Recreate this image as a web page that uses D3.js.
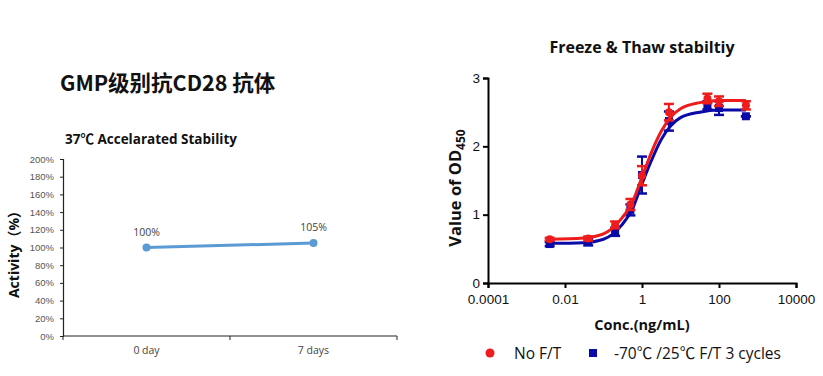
<!DOCTYPE html>
<html>
<head>
<meta charset="utf-8">
<script src="https://cdn.jsdelivr.net/npm/d3@7"></script>
<style>
body { margin:0; background:#fff; }
svg { font-family: "Open Sans", "Noto Sans CJK SC", sans-serif; }
</style>
</head>
<body>
<svg id="drawing_region"></svg>
<script>
// left chart data
const days = ["0 day", "7 days"];
const activity = [1.00, 1.05];
const activityLabels = ["100%", "105%"];
const activityTicks = [0, 0.2, 0.4, 0.6, 0.8, 1.0, 1.2, 1.4, 1.6, 1.8, 2.0];

// right chart data
const conc = [0.004, 0.04, 0.2, 0.5, 1, 5, 50, 100, 500];
const odNoFT = [0.64, 0.65, 0.85, 1.15, 1.57, 2.50, 2.70, 2.66, 2.60];
const errNoFT = [0.02, 0.03, 0.05, 0.08, 0.14, 0.12, 0.07, 0.07, 0.06];
const odFT = [0.57, 0.60, 0.75, 1.07, 1.58, 2.37, 2.60, 2.56, 2.44];
const errFT = [0.03, 0.05, 0.06, 0.08, 0.27, 0.14, 0.06, 0.10, 0.0];
// fitted curves
const curveConc = [0.004, 0.03, 0.1, 0.3, 0.56, 1, 1.78, 3.16, 5.6, 10, 31.6, 100, 500];
const curveNoFT = [0.64, 0.66, 0.72, 0.95, 1.18, 1.55, 1.92, 2.22, 2.43, 2.55, 2.64, 2.67, 2.67];
const curveFT = [0.58, 0.59, 0.64, 0.85, 1.08, 1.45, 1.80, 2.10, 2.30, 2.42, 2.50, 2.53, 2.53];
const odTicks = [0, 1, 2, 3];
const concTicks = [0.0001, 0.01, 1, 100, 10000];
const concTickLabels = ["0.0001", "0.01", "1", "100", "10000"];
const legendNames = ["No F/T", "-70\u2103 /25\u2103  F/T 3 cycles"];

const svg = d3.select("#drawing_region").attr("width", 823).attr("height", 376);

// ---------- left chart ----------
svg.append("text").attr("x", 60).attr("y", 91)
  .attr("font-size", 21.5).attr("font-weight", "bold").attr("fill", "#111")
  .attr("font-family", "'Noto Sans CJK SC', 'Open Sans', sans-serif")
  .text("GMP级别抗CD28 抗体");

svg.append("text").attr("x", 65).attr("y", 144)
  .attr("font-size", 13.5).attr("font-weight", "bold").attr("fill", "#111")
  .text("37\u2103 Accelarated Stability");

const lx = d3.scaleBand().domain(days).range([63, 397]);
const ly = d3.scaleLinear().domain([0, 2]).range([336, 159]);

const lyAxis = svg.append("g").attr("transform", "translate(63,0)")
  .call(d3.axisLeft(ly).tickValues(activityTicks).tickSize(3).tickFormat(d3.format(".0%")));
lyAxis.selectAll("text").attr("font-size", 9.5).attr("fill", "#555").attr("x", -9);
lyAxis.select(".domain").attr("stroke", "#222").attr("stroke-width", 1.2);
lyAxis.selectAll(".tick line").attr("stroke", "#222");

const lxAxis = svg.append("g").attr("transform", "translate(0,336)");
lxAxis.append("line").attr("x1", 63).attr("x2", 397).attr("y1", 0).attr("y2", 0)
  .attr("stroke", "#222").attr("stroke-width", 1.2);
lxAxis.selectAll(".sep").data([0, 1, 2]).enter().append("line")
  .attr("x1", d => 63 + d * lx.bandwidth()).attr("x2", d => 63 + d * lx.bandwidth())
  .attr("y1", 0).attr("y2", 4).attr("stroke", "#222");
lxAxis.selectAll("text").data(days).enter().append("text")
  .attr("x", d => lx(d) + lx.bandwidth() / 2).attr("y", 18)
  .attr("text-anchor", "middle").attr("font-size", 10.5).attr("fill", "#444")
  .text(d => d);

const lline = d3.line().x((d, i) => lx(days[i]) + lx.bandwidth() / 2).y(d => ly(d));
svg.append("path").datum(activity).attr("d", lline)
  .attr("fill", "none").attr("stroke", "#5b9bd5").attr("stroke-width", 3);
svg.selectAll(".lpt").data(activity).enter().append("circle")
  .attr("cx", (d, i) => lx(days[i]) + lx.bandwidth() / 2).attr("cy", d => ly(d))
  .attr("r", 4).attr("fill", "#5b9bd5");
svg.selectAll(".llab").data(activity).enter().append("text")
  .attr("x", (d, i) => lx(days[i]) + lx.bandwidth() / 2).attr("y", d => ly(d) - 12)
  .attr("text-anchor", "middle").attr("font-size", 10.5).attr("fill", "#444")
  .text((d, i) => activityLabels[i]);

svg.append("text")
  .attr("transform", "translate(19,251) rotate(-90)")
  .attr("text-anchor", "middle").attr("font-size", 14).attr("font-weight", "bold").attr("fill", "#111")
  .text("Activity\uFF08%\uFF09");

// ---------- right chart ----------
const rx = d3.scaleLog().domain([0.0001, 10000]).range([488, 796]);
const ry = d3.scaleLinear().domain([0, 3]).range([283, 78]);

svg.append("text").attr("x", 642).attr("y", 53).attr("text-anchor", "middle")
  .attr("font-size", 16).attr("font-weight", "bold").attr("fill", "#111")
  .text("Freeze & Thaw stabiltiy");

const ryAxis = svg.append("g").attr("transform", "translate(488,0)")
  .call(d3.axisLeft(ry).tickValues(odTicks).tickSize(5).tickFormat(d3.format("d")));
const rxAxis = svg.append("g").attr("transform", "translate(0,283)")
  .call(d3.axisBottom(rx).tickValues(concTicks).tickSize(5).tickFormat((d, i) => concTickLabels[i]));
[ryAxis, rxAxis].forEach(a => {
  a.select(".domain").attr("stroke", "#000").attr("stroke-width", 2);
  a.selectAll(".tick line").attr("stroke", "#000").attr("stroke-width", 2);
  a.selectAll("text").attr("font-size", 13.5).attr("fill", "#111");
});
rxAxis.selectAll("text").attr("dy", "0.95em");

const ylab = svg.append("text")
  .attr("transform", "translate(461,188) rotate(-90)")
  .attr("text-anchor", "middle").attr("font-size", 16.5).attr("font-weight", "bold").attr("fill", "#111");
ylab.append("tspan").text("Value of OD");
ylab.append("tspan").attr("font-size", 12).attr("dy", 4).text("450");

svg.append("text").attr("x", 642).attr("y", 330).attr("text-anchor", "middle")
  .attr("font-size", 14.5).attr("font-weight", "bold").attr("fill", "#111")
  .text("Conc.(ng/mL)");

const series = [
  { vals: odNoFT, errs: errNoFT, curve: curveNoFT, color: "#ee1c1c" },
  { vals: odFT, errs: errFT, curve: curveFT, color: "#0a0aa8" }
];

const cline = d3.line().x((d, i) => rx(curveConc[i])).y(d => ry(d)).curve(d3.curveMonotoneX);

// blue first so red sits on top of it
[series[1], series[0]].forEach((s, k) => {
  const g = svg.append("g");
  g.append("path").datum(s.curve).attr("d", cline)
    .attr("fill", "none").attr("stroke", s.color).attr("stroke-width", 3);
  const eb = g.selectAll(".eb").data(s.vals).enter().append("g");
  eb.append("line")
    .attr("x1", (d, i) => rx(conc[i])).attr("x2", (d, i) => rx(conc[i]))
    .attr("y1", (d, i) => ry(d - s.errs[i])).attr("y2", (d, i) => ry(d + s.errs[i]))
    .attr("stroke", s.color).attr("stroke-width", 2);
  [-1, 1].forEach(sg => {
    eb.append("line")
      .attr("x1", (d, i) => rx(conc[i]) - 5).attr("x2", (d, i) => rx(conc[i]) + 5)
      .attr("y1", (d, i) => ry(d + sg * s.errs[i])).attr("y2", (d, i) => ry(d + sg * s.errs[i]))
      .attr("stroke", s.color).attr("stroke-width", 2.5);
  });
  if (k === 0) {
    g.selectAll(".pt").data(s.vals).enter().append("rect")
      .attr("x", (d, i) => rx(conc[i]) - 4).attr("y", d => ry(d) - 4)
      .attr("width", 8).attr("height", 8).attr("fill", s.color);
  } else {
    g.selectAll(".pt").data(s.vals).enter().append("circle")
      .attr("cx", (d, i) => rx(conc[i])).attr("cy", d => ry(d))
      .attr("r", 4).attr("fill", s.color);
  }
});

// legend
const leg = svg.append("g").attr("font-size", 15.5).attr("fill", "#111");
leg.append("circle").attr("cx", 490).attr("cy", 353).attr("r", 4.5).attr("fill", series[0].color);
leg.append("text").attr("x", 514).attr("y", 359).text(legendNames[0]);
leg.append("rect").attr("x", 589).attr("y", 349).attr("width", 8).attr("height", 8).attr("fill", series[1].color);
leg.append("text").attr("x", 614).attr("y", 359).text(legendNames[1]);
</script>
</body>
</html>
